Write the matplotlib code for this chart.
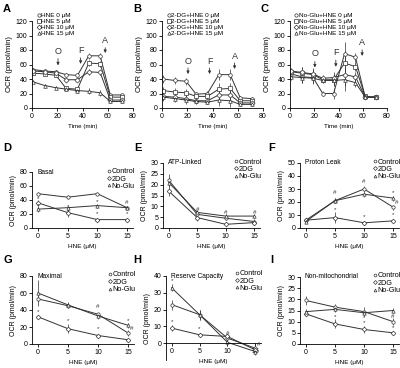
import matplotlib
matplotlib.use("Agg")
import matplotlib.pyplot as plt
from matplotlib.lines import Line2D

plt.rcParams['font.family'] = ['Liberation Sans', 'DejaVu Sans']

# ---- time course data (panels A-C) ----
times = [1, 10, 19, 27, 36, 45, 54, 62, 71]

a_labels = ['HNE 0 μM', 'HNE 5 μM', 'HNE 10 μM', 'HNE 15 μM']
a_hne0 = [53, 51, 50, 46, 45, 72, 72, 18, 18]
a_hne5 = [48, 47, 45, 27, 26, 62, 61, 15, 15]
a_hne10 = [51, 50, 48, 39, 39, 50, 49, 11, 11]
a_hne15 = [36, 31, 28, 26, 24, 23, 21, 9, 9]
a_err = [2, 2, 2, 2, 2, 4, 4, 2, 2]

b_labels = ['2-DG+HNE 0 μM', '2-DG+HNE 5 μM', '2-DG+HNE 10 μM', '2-DG+HNE 15 μM']
b_hne0 = [40, 38, 37, 19, 20, 46, 46, 14, 13]
b_hne5 = [24, 22, 21, 16, 16, 26, 27, 10, 10]
b_hne10 = [16, 15, 13, 10, 10, 18, 18, 7, 7]
b_hne15 = [15, 13, 11, 9, 8, 11, 10, 5, 5]
b_err = [5, 5, 5, 3, 3, 8, 8, 2, 2]

c_labels = ['No-Glu+HNE 0 μM', 'No-Glu+HNE 5 μM', 'No-Glu+HNE 10 μM', 'No-Glu+HNE 15 μM']
c_hne0 = [47, 43, 42, 20, 20, 75, 70, 15, 15]
c_hne5 = [50, 48, 46, 39, 39, 62, 57, 16, 15]
c_hne10 = [51, 49, 47, 41, 42, 46, 43, 15, 15]
c_hne15 = [43, 42, 41, 38, 38, 39, 35, 15, 15]
c_err = [4, 8, 8, 4, 8, 16, 6, 2, 2]

# injections: (label, time, label y, arrow start, arrow end)
a_inject = [('O', 20.6, 78, 72, 55), ('F', 38.5, 79, 73, 57), ('A', 58, 93, 87, 72)]
b_inject = [('O', 20.6, 64, 59, 43), ('F', 37.7, 64, 59, 43), ('A', 57.5, 71, 66, 50)]
c_inject = [('O', 20.5, 75, 68, 52), ('F', 37.8, 76, 70, 53), ('A', 59.5, 90, 84, 68)]

# ---- dose response data (panels D-I) ----
hne = [0, 5, 10, 15]
groups = ['Control', '2DG', 'No-Glu']

basal_ctrl = [49, 44, 49, 29]
basal_2dg = [36, 22, 12, 12]
basal_noglu = [27, 29, 32, 29]
basal_err = [[3, 3, 2, 2], [4, 6, 3, 2], [4, 3, 3, 2]]
basal_marks = [(0, 42, '*'), (0, 32, '*'), (5, 31, '*'), (5, 24, '*'),
               (10, 38, '*'), (10, 20, '*'), (15, 37, '#'), (15, 20, '*')]

atp_ctrl = [22, 6.3, 4.5, 3]
atp_2dg = [17, 4.8, 1.7, 2.5]
atp_noglu = [21, 7.2, 5.5, 5.5]
atp_err = [[3, 1, 1, 1], [2, 1.5, 0.5, 0.5], [2, 1, 1, 1]]
atp_marks = [(5, 8.6, '#'), (10, 7.2, '#'), (15, 7.2, '#')]

leak_ctrl = [6, 21, 30, 16]
leak_2dg = [6, 8, 4, 5.5]
leak_noglu = [5, 21, 26, 23]
leak_err = [[1, 2, 2, 2], [1, 4, 1, 1], [1, 2, 2, 2]]
leak_marks = [(5, 27, '#'), (10, 36, '#'), (15, 27, '*'), (15.6, 20, '#'),
              (5, 14, '*'), (10, 9, '*'), (15, 10, '*')]

max_ctrl = [53, 45, 35, 13]
max_2dg = [32, 18, 10, 5]
max_noglu = [60, 46, 33, 22]
max_err = [[4, 3, 2, 3], [2, 5, 2, 1], [15, 3, 3, 3]]
max_marks = [(0, 38, '*'), (5, 28, '*'), (10, 44, '#'), (10, 18, '*'),
             (15, 28, '*'), (15.6, 18, '#')]

res_ctrl = [23, 17, 3, -3]
res_2dg = [9, 5, 4, -4]
res_noglu = [33, 17, 0.5, -5]
res_err = [[3, 3, 2, 2], [2, 1, 1, 1], [2, 3, 2, 2]]
res_marks = [(0, 37, '*'), (0, 13, '*'), (5, 9, '*'), (10, 6, '#'), (15.6, -1, '#')]

nm_ctrl = [19.5, 16.5, 14.5, 10]
nm_2dg = [13.5, 9, 6.5, 5]
nm_noglu = [14.5, 15.5, 14, 15]
nm_err = [[2, 1.5, 2, 1.5], [1, 2, 1.5, 1], [1, 1, 1, 1]]
nm_marks = [(5, 12.3, '*'), (10, 12, '*'), (15, 12.5, '#'), (10, 9.5, '*'), (15, 7.5, '*')]

W, H = 400, 368
tc_markers = ['o', 's', 'D', '^']
dr_markers = ['o', 'D', '^']
ink = '#333333'


def rect(l, r, t, b):
    return [l / W, 1 - b / H, (r - l) / W, (b - t) / H]


def style_axes(ax):
    for s in ['top', 'right']:
        ax.spines[s].set_visible(False)
    for s in ['left', 'bottom']:
        ax.spines[s].set_linewidth(0.6)
    ax.tick_params(direction='out', length=2, width=0.6, labelsize=5, pad=1.5)


def time_panel(fig, pos, letter, series, err, labels, inject):
    ax = fig.add_axes(rect(*pos))
    style_axes(ax)
    for vals, m in zip(series, tc_markers):
        ax.errorbar(times, vals, yerr=err, color=ink, lw=0.7, marker=m,
                    ms=2.6, mfc='white', mec=ink, mew=0.5,
                    elinewidth=0.5, capsize=0)
    for lab, x, ylab, y0, y1 in inject:
        ax.annotate('', xy=(x, y1), xytext=(x, y0),
                    arrowprops=dict(arrowstyle='-|>', color=ink, lw=0.6,
                                    mutation_scale=4))
        ax.text(x, ylab, lab, ha='center', va='center', fontsize=6.5, color=ink)
    ax.set_xlim(0, 80)
    ax.set_ylim(0, 120)
    ax.set_xticks([0, 20, 40, 60, 80])
    ax.set_yticks([0, 20, 40, 60, 80, 100, 120])
    ax.set_xlabel('Time (min)', fontsize=4.5, labelpad=3)
    ax.set_ylabel('OCR (pmol/min)', fontsize=5.6, labelpad=1.5)
    handles = [Line2D([], [], ls='none', marker=m, ms=2.4, mfc='white',
                      mec=ink, mew=0.5) for m in tc_markers]
    ax.legend(handles, labels, loc='upper left', bbox_to_anchor=(0.05, 1.1),
              frameon=False, fontsize=4.6, handlelength=0.5, handletextpad=0.1,
              labelspacing=0.12, borderaxespad=0, borderpad=0)
    fig.text(pos[0] / W - 0.073, 1 - 9 / H, letter, fontsize=8, fontweight='bold',
             va='center')
    return ax


def dose_panel(fig, pos, title, series, err, ylim, yticks, marks):
    ax = fig.add_axes(rect(*pos))
    style_axes(ax)
    for vals, e, m in zip(series, err, dr_markers):
        ax.errorbar(hne, vals, yerr=e, color=ink, lw=0.7, marker=m,
                    ms=2.4, mfc='white', mec=ink, mew=0.5,
                    elinewidth=0.5, capsize=0)
    for x, y, s in marks:
        ax.text(x, y, s, ha='center', va='center', fontsize=4.5, color=ink)
    ax.set_xlim(-1, 16)
    ax.set_ylim(*ylim)
    ax.set_xticks(hne)
    ax.set_yticks(yticks)
    if ylim[0] < 0:
        ax.spines['bottom'].set_position(('data', 0))
    ax.set_xlabel('HNE (μM)', fontsize=4.6, labelpad=3)
    ax.set_ylabel('OCR (pmol/min)', fontsize=5, labelpad=1.5)
    ax.text(0.05, 1.0, title, transform=ax.transAxes, fontsize=4.8, va='center')
    handles = [Line2D([], [], ls='none', marker=m, ms=2.0, mfc='white',
                      mec=ink, mew=0.5) for m in dr_markers]
    ax.legend(handles, groups, loc='upper right', bbox_to_anchor=(1.02, 1.07),
              frameon=False, fontsize=5.2, handlelength=0.4, handletextpad=0.1,
              labelspacing=0.05, borderaxespad=0, borderpad=0)
    return ax


fig = plt.figure(figsize=(4, 3.68), dpi=100)

time_panel(fig, (32, 133, 21, 108), 'A', [a_hne0, a_hne5, a_hne10, a_hne15],
           a_err, a_labels, a_inject)
time_panel(fig, (162, 263, 21, 108), 'B', [b_hne0, b_hne5, b_hne10, b_hne15],
           b_err, b_labels, b_inject)
time_panel(fig, (290, 387, 21, 108), 'C', [c_hne0, c_hne5, c_hne10, c_hne15],
           c_err, c_labels, c_inject)

dose_panel(fig, (32, 133, 172, 228), 'Basal',
           [basal_ctrl, basal_2dg, basal_noglu], basal_err,
           (0, 80), [0, 20, 40, 60, 80], basal_marks)
dose_panel(fig, (163, 260, 163, 228), 'ATP-Linked',
           [atp_ctrl, atp_2dg, atp_noglu], atp_err,
           (0, 30), [0, 5, 10, 15, 20, 25, 30], atp_marks)
dose_panel(fig, (300, 399, 163, 228), 'Proton Leak',
           [leak_ctrl, leak_2dg, leak_noglu], leak_err,
           (0, 50), [0, 10, 20, 30, 40, 50], leak_marks)
dose_panel(fig, (32, 134, 276, 344), 'Maximal',
           [max_ctrl, max_2dg, max_noglu], max_err,
           (0, 80), [0, 20, 40, 60, 80], max_marks)
dose_panel(fig, (166, 261, 276, 360), 'Reserve Capacity',
           [res_ctrl, res_2dg, res_noglu], res_err,
           (-10, 40), [0, 10, 20, 30, 40], res_marks)
dose_panel(fig, (300, 399, 277, 344), 'Non-mitochondrial',
           [nm_ctrl, nm_2dg, nm_noglu], nm_err,
           (0, 30), [0, 5, 10, 15, 20, 25, 30], nm_marks)

# panel letters for the lower rows
for letter, x, y in [('D', 3, 148), ('E', 134, 148), ('F', 268, 148),
                     ('G', 3, 260), ('H', 133, 260), ('I', 270, 260)]:
    fig.text(x / W, 1 - y / H, letter, fontsize=8, fontweight='bold', va='center')

fig.savefig('out.png', dpi=100)
